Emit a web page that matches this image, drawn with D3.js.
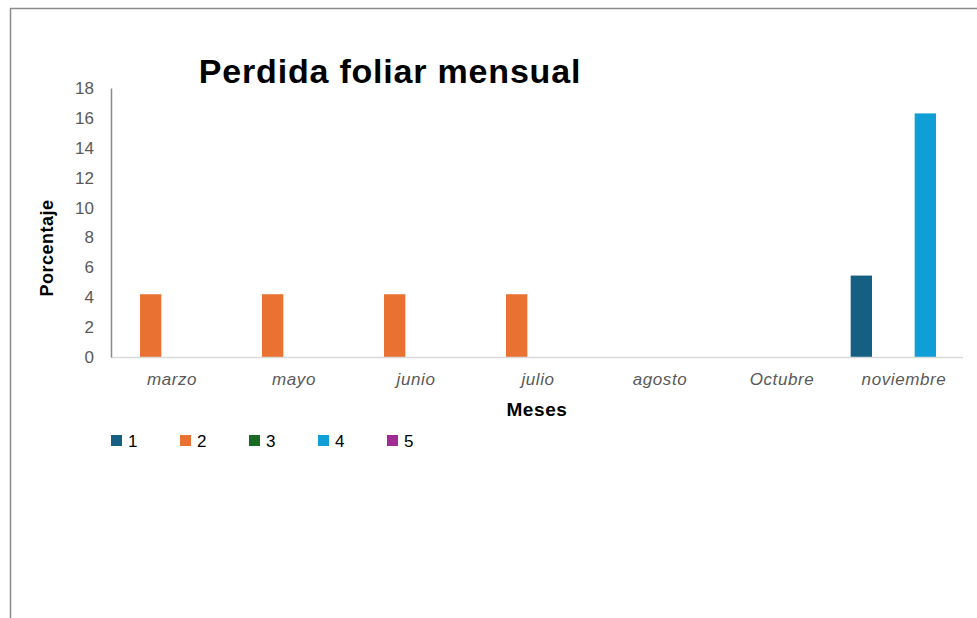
<!DOCTYPE html>
<html>
<head>
<meta charset="utf-8">
<script src="https://cdn.jsdelivr.net/npm/d3@7"></script>
<style>
  body { margin: 0; background: #fff; }
  svg text { font-family: Arial, "Liberation Sans", sans-serif; }
</style>
</head>
<body>
<div id="chart"></div>
<script>
// data
var months = ["marzo", "mayo", "junio", "julio", "agosto", "Octubre", "noviembre"];
var seriesNames = ["1", "2", "3", "4", "5"];
var serie1 = [0, 0, 0, 0, 0, 0, 5.45];
var serie2 = [4.2, 4.2, 4.2, 4.2, 0, 0, 0];
var serie3 = [0, 0, 0, 0, 0, 0, 0];
var serie4 = [0, 0, 0, 0, 0, 0, 16.3];
var serie5 = [0, 0, 0, 0, 0, 0, 0];
var yTicks = [0, 2, 4, 6, 8, 10, 12, 14, 16, 18];
var colors = ["#156082", "#E97132", "#196B24", "#0F9ED5", "#A02B93"];

var allSeries = [serie1, serie2, serie3, serie4, serie5];

var W = 977, H = 618;
var svg = d3.select("#chart").append("svg")
    .attr("width", W).attr("height", H);

// chart frame
svg.append("path")
    .attr("d", "M10.5,618 V8.5 H977")
    .attr("fill", "none")
    .attr("stroke", "#8a8a8a")
    .attr("stroke-width", 1.5);

var x0 = d3.scaleBand().domain(months).range([111, 965]).paddingInner(0).paddingOuter(0);
var x1 = d3.scaleBand().domain(seriesNames).range([0, x0.bandwidth()]).paddingInner(0).paddingOuter(0.36);
var y = d3.scaleLinear().domain([0, 18]).range([357, 88]);

// bars
var groups = svg.append("g").selectAll("g")
    .data(months)
    .enter().append("g")
    .attr("transform", function (d) { return "translate(" + x0(d) + ",0)"; });

groups.selectAll("rect")
    .data(function (d, i) {
        return seriesNames.map(function (s, j) { return { s: s, v: allSeries[j][i], c: colors[j] }; });
    })
    .enter().append("rect")
    .attr("x", function (d) { return x1(d.s); })
    .attr("width", x1.bandwidth())
    .attr("y", function (d) { return y(d.v); })
    .attr("height", function (d) { return y(0) - y(d.v); })
    .attr("fill", function (d) { return d.c; });

// x axis baseline
svg.append("line")
    .attr("x1", 111).attr("x2", 963)
    .attr("y1", y(0) + 0.5).attr("y2", y(0) + 0.5)
    .attr("stroke", "#d9d9d9").attr("stroke-width", 1.5);

// y axis
var yAxis = svg.append("g")
    .attr("transform", "translate(111,0)")
    .call(d3.axisLeft(y).tickValues(yTicks).tickSize(0).tickPadding(17));
yAxis.select(".domain").attr("stroke", "#8a8a8a").attr("stroke-width", 1.5);
yAxis.selectAll("text")
    .attr("fill", "#595959")
    .style("font-size", "17px");

// x axis labels
var xAxis = svg.append("g")
    .attr("transform", "translate(0," + y(0) + ")")
    .call(d3.axisBottom(x0).tickSize(0).tickPadding(16));
xAxis.select(".domain").remove();
xAxis.selectAll("text")
    .attr("fill", "#595959")
    .style("font-size", "17px")
    .style("letter-spacing", "0.6px")
    .style("font-style", "italic");

// title
svg.append("text")
    .attr("x", 390).attr("y", 83)
    .attr("text-anchor", "middle")
    .style("font-size", "34px")
    .style("letter-spacing", "0.8px")
    .style("font-weight", "bold")
    .attr("fill", "#000")
    .text("Perdida foliar mensual");

// axis titles
svg.append("text")
    .attr("transform", "translate(53,248) rotate(-90)")
    .attr("text-anchor", "middle")
    .style("font-size", "18px")
    .style("letter-spacing", "0.5px")
    .style("font-weight", "bold")
    .attr("fill", "#000")
    .text("Porcentaje");

svg.append("text")
    .attr("x", 537).attr("y", 416)
    .attr("text-anchor", "middle")
    .style("font-size", "19px")
    .style("letter-spacing", "0.6px")
    .style("font-weight", "bold")
    .attr("fill", "#000")
    .text("Meses");

// legend
var legend = svg.append("g").selectAll("g")
    .data(seriesNames)
    .enter().append("g")
    .attr("transform", function (d, i) { return "translate(" + (111 + i * 69) + ",435)"; });
legend.append("rect")
    .attr("width", 11).attr("height", 11)
    .attr("fill", function (d, i) { return colors[i]; });
legend.append("text")
    .attr("x", 17).attr("y", 12)
    .style("font-size", "17px")
    .attr("fill", "#000")
    .text(function (d) { return d; });
</script>
</body>
</html>
